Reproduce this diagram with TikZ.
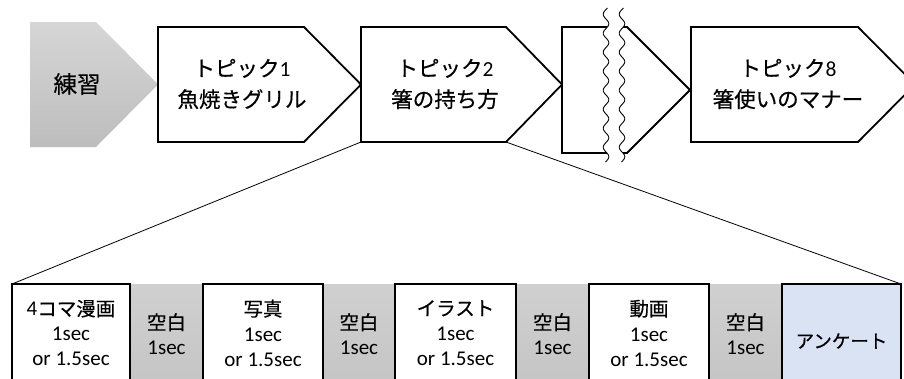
\documentclass[tikz,border=0pt]{standalone}
\usepackage{fontspec}
\setmainfont{Carlito}
\newfontfamily\jpf[FakeBold=0.4]{Noto Sans CJK JP}
\newcommand\jps{\jpf\fontsize{19.5}{25}\selectfont}
\definecolor{grayA}{HTML}{D6D6D6}
\definecolor{grayB}{HTML}{BDBDBD}
\definecolor{grayC}{HTML}{D0D0D0}
\definecolor{grayD}{HTML}{C4C4C4}
\definecolor{lblue}{HTML}{DAE3F3}
\tikzset{
  box/.style={draw=black, line width=1.8pt, fill=white, line join=miter},
  zoomline/.style={draw=black, line width=0.8pt},
  wave/.style={draw=black, line width=0.9pt},
  toptxt/.style={align=center, font=\fontsize{21.5}{31}\selectfont, inner sep=0pt},
  bottxt/.style={align=center, font=\fontsize{21}{25}\selectfont, inner sep=0pt},
  graybox/.style={top color=grayC, bottom color=grayD},
  whitebox/.style={draw=black, line width=1.8pt, fill=white},
  bluebox/.style={draw=black, line width=1.8pt, fill=lblue}
}
\begin{document}
\begin{tikzpicture}[x=1pt,y=-1pt]
\useasboundingbox (0,0) rectangle (904,378);
\clip (0,0) rectangle (904,378);
\fill[white] (0,0) rectangle (904,378);
% corner coordinates of the zoomed topic and the detail row
\coordinate (t2bl) at (361,142);
\coordinate (t2br) at (506,142);
\coordinate (rowtl) at (12,284);
\coordinate (rowtr) at (901,284);
% zoom lines
\draw[zoomline] (t2bl) -- (rowtl);
\draw[zoomline] (t2br) -- (rowtr);
% practice
\shade[top color=grayA, bottom color=grayB] (30,22) -- (96,22) -- (158,84.5) -- (96,147) -- (30,147) -- cycle;
\node[toptxt, font=\fontsize{23.5}{31}\selectfont] (prac) at (77,84) {\jpf 練習};
% topic 1
\draw[box] (158,27) -- (304,27) -- (361,84.5) -- (304,142) -- (158,142) -- cycle;
\node[toptxt] (t1) at (242,84) {{\jpf トピック}1\\{\jpf 魚焼きグリル}};
% topic 2
\draw[box] (361,27) -- (506,27) -- (562,84.5) -- (506,142) -- (361,142) -- cycle;
\node[toptxt] (t2) at (445,84) {{\jpf トピック}2\\{\jpf 箸の持ち方}};
% broken box
\draw[box] (562,27) -- (627,27) -- (690,90) -- (627,153) -- (562,153) -- cycle;
\fill[white] plot[domain=6:164, samples=120, variable=\t] ({606+2.8*sin(\t*18.947)},\t)
  -- plot[domain=164:6, samples=120, variable=\t] ({622+2.8*sin(\t*18.947)},\t) -- cycle;
\draw[wave] plot[domain=8:162, samples=120, variable=\t] ({606+2.8*sin(\t*18.947)},\t);
\draw[wave] plot[domain=8:162, samples=120, variable=\t] ({622+2.8*sin(\t*18.947)},\t);
% topic 8
\draw[box] (691,27) -- (858,27) -- (915,84.5) -- (858,142) -- (691,142) -- cycle;
\node[toptxt] (t8) at (788,84) {{\jpf トピック}8\\{\jpf 箸使いのマナー}};
% detail row
\shade[graybox] (130,284) rectangle (203,392);
\shade[graybox] (323,284) rectangle (395,392);
\shade[graybox] (516,284) rectangle (589,392);
\shade[graybox] (709,284) rectangle (782,392);
\draw[whitebox] (rowtl) rectangle (130,392);
\draw[whitebox] (203,284) rectangle (323,392);
\draw[whitebox] (395,284) rectangle (516,392);
\draw[whitebox] (589,284) rectangle (709,392);
\draw[bluebox] (782,284) rectangle (rowtr |- 0,392);
\node[bottxt] (d1) at (71,333) {4{\jps コマ漫画}\\1sec\\or 1.5sec};
\node[bottxt] (g1) at (166.5,334) {{\jps 空白}\\1sec};
\node[bottxt] (d2) at (263,333) {{\jps 写真}\\1sec\\or 1.5sec};
\node[bottxt] (g2) at (359,334) {{\jps 空白}\\1sec};
\node[bottxt] (d3) at (455.5,333) {{\jps イラスト}\\1sec\\or 1.5sec};
\node[bottxt] (g3) at (552.5,334) {{\jps 空白}\\1sec};
\node[bottxt] (d4) at (649,333) {{\jps 動画}\\1sec\\or 1.5sec};
\node[bottxt] (g4) at (745.5,334) {{\jps 空白}\\1sec};
\node[bottxt, font=\fontsize{18.5}{22}\selectfont] (q) at (841.5,341) {\jpf アンケート};
\end{tikzpicture}
\end{document}
